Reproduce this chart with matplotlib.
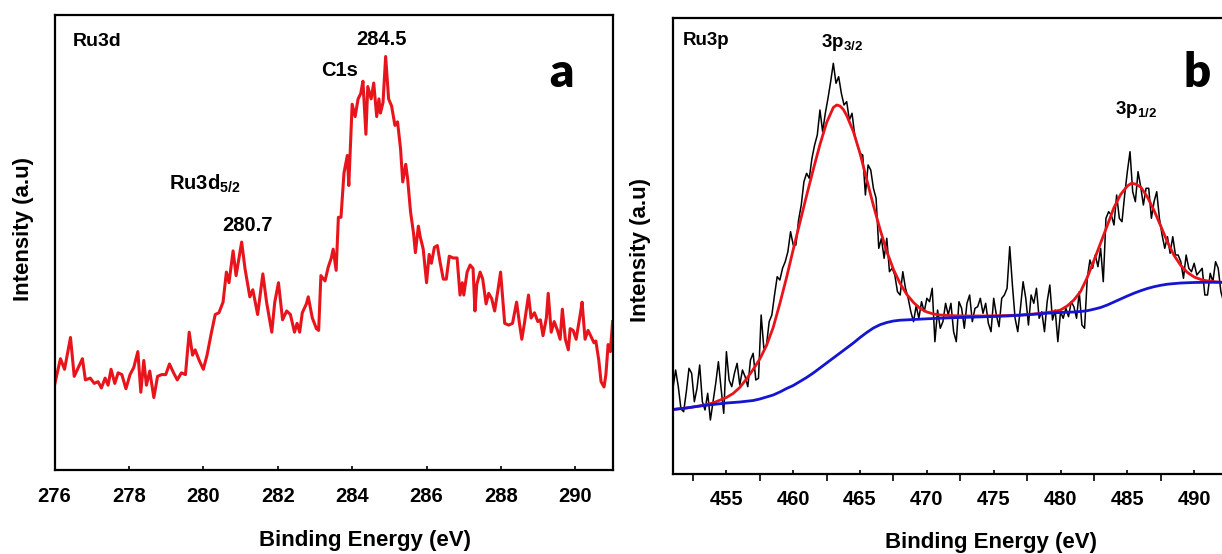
import numpy as np
import matplotlib
matplotlib.use("Agg")
import matplotlib.pyplot as plt
from matplotlib.ticker import MultipleLocator, NullLocator

plt.rcParams["font.family"] = ["Liberation Sans", "DejaVu Sans"]
plt.rcParams["font.weight"] = "bold"
plt.rcParams["mathtext.fontset"] = "custom"
plt.rcParams["mathtext.rm"] = "Liberation Sans:bold"
plt.rcParams["mathtext.it"] = "Liberation Sans:bold"
plt.rcParams["mathtext.bf"] = "Liberation Sans:bold"

# ---------------- Ru3d / C1s region (panel a) ----------------
energy_a = [
    276.00, 276.16, 276.27, 276.43, 276.53, 276.64, 276.75, 276.83, 276.96, 277.07,
    277.17, 277.26, 277.36, 277.44, 277.52, 277.62, 277.71, 277.81, 277.92, 278.03,
    278.13, 278.24, 278.32, 278.40, 278.47, 278.56, 278.67, 278.77, 278.88, 278.99,
    279.09, 279.20, 279.30, 279.41, 279.52, 279.62, 279.71, 279.78, 279.89, 280.00,
    280.10, 280.21, 280.32, 280.42, 280.53, 280.62, 280.69, 280.80, 280.88, 281.03,
    281.12, 281.25, 281.33, 281.46, 281.60, 281.70, 281.84, 281.92, 282.02, 282.13,
    282.24, 282.34, 282.45, 282.52, 282.59, 282.66, 282.77, 282.82, 282.93, 283.04,
    283.10, 283.16, 283.27, 283.36, 283.44, 283.49, 283.57, 283.63, 283.70, 283.78,
    283.87, 283.91, 284.00, 284.08, 284.16, 284.23, 284.29, 284.37, 284.42, 284.51,
    284.58, 284.66, 284.72, 284.76, 284.83, 284.90, 284.98, 285.06, 285.15, 285.22,
    285.30, 285.36, 285.44, 285.49, 285.57, 285.65, 285.70, 285.78, 285.83, 285.91,
    286.00, 286.07, 286.13, 286.21, 286.29, 286.36, 286.45, 286.53, 286.61, 286.71,
    286.82, 286.90, 286.96, 287.00, 287.09, 287.17, 287.25, 287.30, 287.35, 287.44,
    287.51, 287.60, 287.67, 287.75, 287.83, 287.92, 287.99, 288.10, 288.21, 288.31,
    288.42, 288.49, 288.56, 288.63, 288.74, 288.81, 288.90, 288.99, 289.06, 289.13,
    289.22, 289.27, 289.35, 289.43, 289.52, 289.59, 289.65, 289.73, 289.81, 289.86,
    289.94, 290.02, 290.13, 290.18, 290.26, 290.34, 290.41, 290.50, 290.55, 290.63,
    290.69, 290.77, 290.82, 290.88, 290.94, 291.00,
]
counts_a = [
    24.0, 31.5, 28.5, 37.5, 26.5, 29.0, 31.5, 25.5, 26.0, 24.5,
    25.0, 23.2, 26.0, 24.0, 28.5, 24.5, 27.5, 27.0, 23.0, 27.0,
    29.0, 33.5, 22.0, 31.0, 24.0, 28.0, 20.5, 26.5, 27.0, 27.0,
    30.0, 27.5, 25.5, 27.5, 27.0, 39.0, 32.5, 34.0, 31.0, 28.5,
    32.5, 38.5, 44.0, 44.5, 47.5, 56.0, 53.0, 62.0, 55.0, 64.5,
    57.0, 49.0, 51.0, 44.0, 55.5, 47.5, 39.0, 47.5, 53.0, 42.5,
    45.0, 44.0, 39.0, 41.5, 39.0, 44.5, 47.0, 49.0, 43.0, 40.0,
    39.5, 55.0, 53.5, 57.5, 60.0, 62.5, 56.5, 71.5, 71.5, 84.0,
    89.0, 80.5, 103.5, 100.0, 105.0, 106.5, 110.0, 95.0, 108.5, 105.0,
    109.5, 100.0, 105.0, 101.0, 104.0, 117.0, 105.0, 103.0, 97.5, 98.5,
    91.0, 81.5, 86.5, 82.5, 73.0, 67.0, 61.5, 69.0, 66.0, 62.5,
    53.0, 61.0, 58.5, 63.0, 63.5, 59.0, 54.0, 54.0, 60.5, 60.0,
    60.0, 49.5, 53.0, 49.5, 56.0, 58.0, 57.0, 45.0, 52.5, 56.0,
    54.0, 47.0, 50.0, 48.5, 45.0, 51.0, 56.0, 41.5, 41.0, 41.5,
    47.5, 42.0, 37.0, 41.5, 49.5, 43.0, 44.5, 42.0, 42.5, 38.0,
    43.0, 50.0, 39.0, 42.0, 39.5, 37.0, 45.5, 37.0, 34.0, 40.0,
    39.5, 37.0, 44.0, 47.5, 37.0, 39.5, 38.0, 36.0, 36.5, 31.0,
    25.0, 23.5, 27.0, 35.5, 33.5, 42.0,
]
ticks_a = [276, 278, 280, 282, 284, 286, 288, 290]

# ---------------- Ru3p region (panel b) ----------------
start_b, step_b = 451.0, 0.2
counts_b = [
    85.2, 103.5, 86.8, 64.5, 61.8,        # 451
    81.8, 105.2, 100.2, 71.8, 85.2,       # 452
    108.5, 71.8, 63.5, 80.2, 53.5,        # 453
    71.8, 90.2, 111.8, 85.2, 60.2,        # 454
    121.8, 93.5, 86.8, 100.2, 110.2,      # 455
    88.5, 103.5, 96.8, 86.8, 113.5,       # 456
    120.2, 93.5, 95.2, 158.5, 125.2,      # 457
    128.5, 151.8, 158.5, 178.5, 196.8,    # 458
    193.5, 205.2, 211.8, 221.8, 241.8,    # 459
    228.5, 228.5, 253.5, 268.5, 291.8,    # 460
    300.2, 295.2, 315.2, 328.5, 338.5,    # 461
    363.5, 341.8, 360.2, 375.2, 391.8,    # 462
    410.2, 390.2, 396.8, 380.2, 368.5,    # 463
    371.8, 353.5, 360.2, 338.5, 328.5,    # 464
    320.0, 318.5, 278.5, 308.5, 303.5,    # 465
    285.2, 275.2, 225.2, 235.2, 215.2,    # 466
    235.2, 201.8, 205.2, 198.5, 181.8,    # 467
    178.5, 201.8, 185.2, 175.2, 161.8,    # 468
    151.8, 167.8, 155.2, 171.8, 161.8,    # 469
    175.2, 171.8, 185.2, 131.8, 163.5,    # 470
    145.2, 151.8, 170.2, 158.5, 170.2,    # 471
    141.8, 131.8, 171.8, 165.2, 145.2,    # 472
    170.2, 178.5, 151.8, 165.2, 166.8,    # 473
    175.2, 160.2, 170.2, 150.2, 141.8,    # 474
    175.2, 158.5, 146.8, 175.2, 178.5,    # 475
    185.2, 226.8, 188.5, 155.2, 141.8,    # 476
    165.2, 191.8, 175.2, 148.5, 178.5,    # 477
    170.2, 185.2, 155.2, 161.8, 141.8,    # 478
    171.8, 188.5, 153.5, 163.5, 131.8,    # 479
    161.8, 155.2, 165.2, 156.8, 171.8,    # 480
    166.8, 155.2, 181.8, 148.5, 145.2,    # 481
    195.2, 213.5, 205.2, 218.5, 206.8,    # 482
    225.2, 191.8, 255.2, 261.8, 258.5,    # 483
    248.5, 278.5, 255.2, 251.8, 278.5,    # 484
    301.8, 321.8, 281.8, 271.8, 301.8,    # 485
    286.8, 268.5, 285.2, 285.2, 255.2,    # 486
    271.8, 281.8, 255.2, 238.5, 225.2,    # 487
    236.8, 220.2, 236.8, 218.5, 218.5,    # 488
    211.8, 195.2, 218.5, 205.2, 201.8,    # 489
    210.2, 198.5, 201.8, 205.2, 178.5,    # 490
    178.5, 200.2, 191.8, 211.8, 205.2,    # 491
    181.8, 171.8, 185.2,                  # 492
]
energy_b = start_b + step_b * np.arange(len(counts_b))

fit_energy = [
    451.0, 452.0, 453.0, 454.0, 455.0, 455.5, 456.0, 456.5, 457.0, 457.5,
    458.0, 458.5, 459.0, 459.5, 460.0, 460.5, 461.0, 461.5, 462.0, 462.5,
    463.0, 463.25, 463.5, 463.75, 464.0, 464.5, 465.0, 465.5, 466.0, 466.5,
    467.0, 467.5, 468.0, 468.5, 469.0, 469.5, 470.0, 470.5, 471.0, 472.0,
    473.0, 474.0, 475.0, 476.0, 477.0, 478.0, 478.5, 479.0, 479.5, 480.0,
    480.5, 481.0, 481.5, 482.0, 482.5, 483.0, 483.5, 484.0, 484.5, 485.0,
    485.3, 485.6, 486.0, 486.5, 487.0, 487.5, 488.0, 488.5, 489.0, 489.5,
    490.0, 490.5, 491.0, 492.0, 493.0, 494.0, 495.0,
]
fit_counts = [
    64.0, 65.5, 67.5, 70.5, 76.0, 80.0, 86.0, 94.5, 104.0, 114.5,
    128.0, 146.0, 170.0, 196.0, 224.0, 251.0, 278.0, 304.0, 329.0, 351.0,
    366.0, 368.5, 367.5, 364.0, 358.0, 342.0, 320.0, 294.0, 268.0, 244.0,
    222.0, 204.0, 190.0, 179.0, 171.0, 165.0, 161.5, 159.5, 158.5, 157.8,
    157.5, 157.5, 157.7, 158.0, 158.5, 159.5, 160.2, 161.0, 162.0, 163.5,
    167.5, 173.5, 182.0, 196.0, 213.0, 230.5, 248.0, 266.0, 279.0, 287.5,
    290.2, 289.5, 286.5, 276.5, 263.0, 247.5, 231.5, 218.0, 208.0, 201.0,
    196.5, 194.0, 192.5, 191.2, 190.8, 190.6, 190.5,
]

bg_energy = [
    451.0, 452.0, 453.0, 454.0, 455.0, 456.0, 457.0, 457.5, 458.0, 458.5,
    459.0, 459.5, 460.0, 460.5, 461.0, 461.5, 462.0, 462.5, 463.0, 463.5,
    464.0, 464.5, 465.0, 465.5, 466.0, 466.5, 467.0, 467.5, 468.0, 469.0,
    470.0, 471.0, 472.0, 473.0, 474.0, 475.0, 476.0, 477.0, 478.0, 479.0,
    480.0, 481.0, 481.5, 482.0, 482.5, 483.0, 483.5, 484.0, 484.5, 485.0,
    485.5, 486.0, 486.5, 487.0, 487.5, 488.0, 489.0, 490.0, 491.0, 492.0,
    493.0, 494.0, 495.0,
]
bg_counts = [
    64.0, 65.5, 67.5, 69.0, 70.5, 71.5, 73.0, 74.5, 76.5, 78.5,
    81.5, 85.0, 88.0, 92.0, 96.0, 100.5, 105.5, 110.5, 115.5, 120.5,
    125.5, 130.5, 136.0, 141.0, 145.5, 148.8, 151.0, 152.5, 153.3, 154.0,
    154.7, 155.3, 155.8, 156.2, 156.6, 157.0, 157.5, 158.3, 159.2, 160.3,
    161.0, 161.5, 162.0, 162.8, 164.3, 166.0, 168.5, 171.5, 174.5, 177.5,
    180.3, 182.8, 185.0, 186.8, 188.2, 189.3, 190.5, 191.0, 191.2, 191.2,
    191.2, 191.2, 191.2,
]
ticks_b = [455, 460, 465, 470, 475, 480, 485, 490]

RED = "#e8141c"
BLUE = "#1414d2"
TICK_FS = 14.5
LABEL_FS = 16

fig = plt.figure(figsize=(12.22, 5.54), dpi=100)


def style_axes(ax):
    for sp in ax.spines.values():
        sp.set_linewidth(1.6)
        sp.set_color("black")
    ax.set_yticks([])
    ax.tick_params(axis="x", which="major", direction="in", length=3, width=1.2,
                   labelsize=TICK_FS, pad=12)
    ax.tick_params(axis="x", which="minor", direction="out", length=5, width=1.2)
    for lab in ax.get_xticklabels():
        lab.set_fontweight("bold")


# ---- panel a ----
ax_a = fig.add_axes([0.0446, 0.1516, 0.4567, 0.8217])
ax_a.plot(energy_a, counts_a, color=RED, lw=2.2, solid_joinstyle="round")
ax_a.set_xlim(276, 291)
ax_a.set_ylim(0, 128.8)
ax_a.set_xticks(ticks_a)
ax_a.xaxis.set_minor_locator(NullLocator())
style_axes(ax_a)
ax_a.set_xlabel("Binding Energy (eV)", fontsize=LABEL_FS, fontweight="bold")
ax_a.xaxis.set_label_coords(0.556, -0.154)
ax_a.xaxis.label.set_va("center")
ax_a.set_ylabel("Intensity (a.u)", fontsize=LABEL_FS, fontweight="bold")
ax_a.yaxis.set_label_coords(-0.0547, 0.529)
ax_a.yaxis.label.set_va("center")

ax_a.text(0.033, 0.941, "Ru3d", transform=ax_a.transAxes, fontsize=14,
          ha="left", va="center")
ax_a.text(0.586, 0.9455, "284.5", transform=ax_a.transAxes, fontsize=14.5,
          ha="center", va="center")
ax_a.text(0.5107, 0.877, "C1s", transform=ax_a.transAxes, fontsize=14.5,
          ha="center", va="center")
ax_a.text(0.205, 0.628, r"Ru3d$_{5/2}$", transform=ax_a.transAxes, fontsize=14.5,
          ha="left", va="center")
ax_a.text(0.3458, 0.538, "280.7", transform=ax_a.transAxes, fontsize=14.5,
          ha="center", va="center")
ax_a.text(0.909, 0.842, "a", transform=ax_a.transAxes, fontsize=34,
          ha="center", va="baseline", family="Lato", fontweight="heavy")

# ---- panel b ----
ax_b = fig.add_axes([0.5507, 0.1453, 0.4812, 0.8215])
ax_b.plot(energy_b, counts_b, color="black", lw=1.1)
ax_b.plot(fit_energy, fit_counts, color=RED, lw=2.0)
ax_b.plot(bg_energy, bg_counts, color=BLUE, lw=2.0)
ax_b.set_xlim(451, 495)
ax_b.set_ylim(0, 455.1)
ax_b.set_xticks(ticks_b)
ax_b.xaxis.set_minor_locator(MultipleLocator(2.5))
style_axes(ax_b)
ax_b.set_xlabel("Binding Energy (eV)", fontsize=LABEL_FS, fontweight="bold")
ax_b.xaxis.set_label_coords(0.541, -0.151)
ax_b.xaxis.label.set_va("center")
ax_b.set_ylabel("Intensity (a.u)", fontsize=LABEL_FS, fontweight="bold")
ax_b.yaxis.set_label_coords(-0.0544, 0.491)
ax_b.yaxis.label.set_va("center")

ax_b.text(0.017, 0.951, "Ru3p", transform=ax_b.transAxes, fontsize=13.5,
          ha="left", va="center")
ax_b.text(0.2526, 0.948, r"3p$_{3/2}$", transform=ax_b.transAxes, fontsize=13.5,
          ha="left", va="center")
ax_b.text(0.7517, 0.80, r"3p$_{1/2}$", transform=ax_b.transAxes, fontsize=13.5,
          ha="left", va="center")
ax_b.text(0.891, 0.850, "b", transform=ax_b.transAxes, fontsize=34,
          ha="center", va="baseline", family="Lato", fontweight="heavy")

fig.savefig("out.png", dpi=100)
